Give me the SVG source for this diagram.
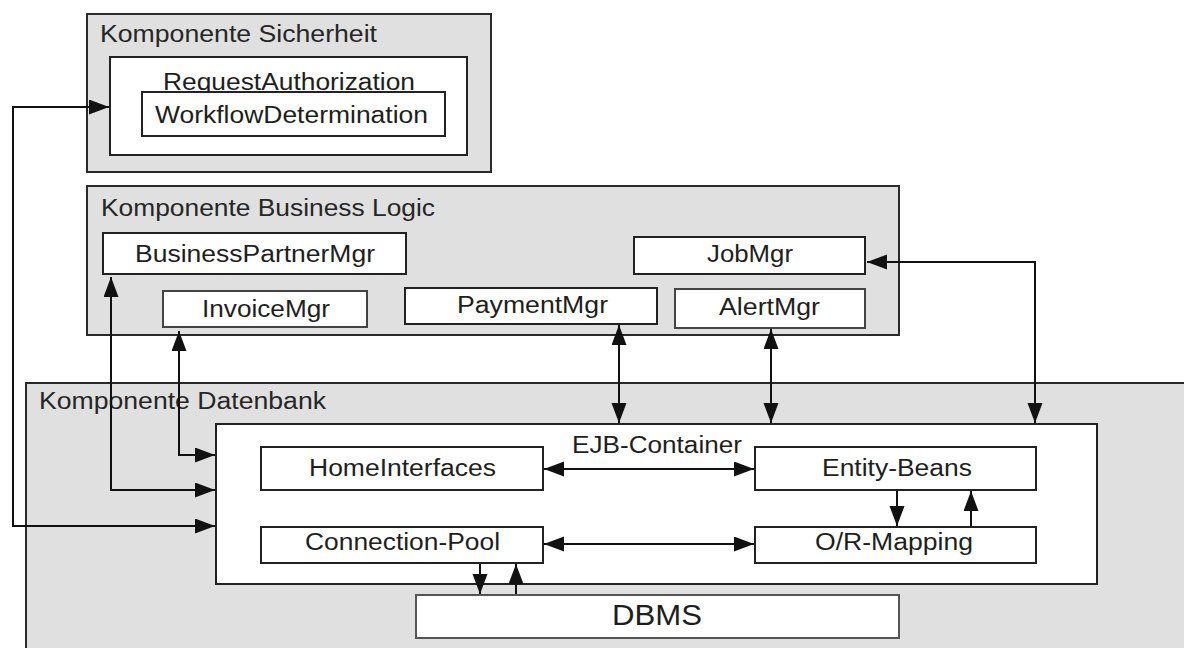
<svg xmlns="http://www.w3.org/2000/svg" width="1184" height="648" viewBox="0 0 1184 648">
  <style>
    .comp { fill: #e0e0e0; stroke: #2a2a2a; stroke-width: 2; }
    .box { fill: #ffffff; stroke: #222222; stroke-width: 2; }
    .title { font-family: "Liberation Sans", Arial, sans-serif; font-size: 23px; fill: #262626; }
    .label { font-family: "Liberation Sans", Arial, sans-serif; font-size: 23px; fill: #1e1e1e; text-anchor: middle; }
    .big { font-size: 29px; }
    .conn { fill: none; stroke: #111111; stroke-width: 2; }
  </style>
  <defs>
    <marker id="arrow" markerUnits="userSpaceOnUse" markerWidth="21" markerHeight="16" refX="20" refY="7.5" orient="auto-start-reverse">
      <path d="M0,0 L20,7.5 L0,15 z" fill="#111111"/>
    </marker>
  </defs>

  <rect x="0" y="0" width="1184" height="648" fill="#ffffff"/>

  <!-- Security component -->
  <g id="komponente-sicherheit">
    <rect class="comp" x="87" y="14" width="404" height="158"/>
    <text class="title" x="100" y="42" textLength="277" lengthAdjust="spacingAndGlyphs">Komponente Sicherheit</text>
  </g>
  <g id="request-authorization">
    <rect class="box" x="110" y="57" width="357" height="98"/>
    <text class="label" x="289" y="90" textLength="252" lengthAdjust="spacingAndGlyphs">RequestAuthorization</text>
  </g>
  <g id="workflow-determination">
    <rect class="box" x="142" y="92" width="303" height="44"/>
    <text class="label" x="291.5" y="123" textLength="273" lengthAdjust="spacingAndGlyphs">WorkflowDetermination</text>
  </g>

  <!-- Business logic component -->
  <g id="komponente-business-logic">
    <rect class="comp" x="87" y="186" width="812" height="149"/>
    <text class="title" x="101" y="216" textLength="334" lengthAdjust="spacingAndGlyphs">Komponente Business Logic</text>
  </g>
  <g id="business-partner-mgr">
    <rect class="box" x="103" y="233" width="303" height="41"/>
    <text class="label" x="255" y="262" textLength="240" lengthAdjust="spacingAndGlyphs">BusinessPartnerMgr</text>
  </g>
  <g id="invoice-mgr">
    <rect class="box" x="163" y="291" width="204" height="36" style="stroke:#444"/>
    <text class="label" x="266" y="317" textLength="128" lengthAdjust="spacingAndGlyphs">InvoiceMgr</text>
  </g>
  <g id="payment-mgr">
    <rect class="box" x="405" y="288" width="252" height="36"/>
    <text class="label" x="532.5" y="313" textLength="151" lengthAdjust="spacingAndGlyphs">PaymentMgr</text>
  </g>
  <g id="job-mgr">
    <rect class="box" x="634" y="237" width="231" height="37"/>
    <text class="label" x="750" y="262" textLength="86" lengthAdjust="spacingAndGlyphs">JobMgr</text>
  </g>
  <g id="alert-mgr">
    <rect class="box" x="675" y="289" width="190" height="39" style="stroke:#444"/>
    <text class="label" x="769.5" y="315" textLength="101" lengthAdjust="spacingAndGlyphs">AlertMgr</text>
  </g>

  <!-- Database component -->
  <g id="komponente-datenbank">
    <rect class="comp" x="26" y="383" width="1200" height="300"/>
    <text class="title" x="39" y="409" textLength="287" lengthAdjust="spacingAndGlyphs">Komponente Datenbank</text>
  </g>
  <g id="ejb-container">
    <rect class="box" x="216" y="424" width="881" height="160"/>
    <text class="label" x="657" y="453" textLength="170" lengthAdjust="spacingAndGlyphs">EJB-Container</text>
  </g>
  <g id="home-interfaces">
    <rect class="box" x="261" y="447" width="282" height="43"/>
    <text class="label" x="402.5" y="476" textLength="187" lengthAdjust="spacingAndGlyphs">HomeInterfaces</text>
  </g>
  <g id="entity-beans">
    <rect class="box" x="755" y="447" width="281" height="43"/>
    <text class="label" x="897" y="476" textLength="150" lengthAdjust="spacingAndGlyphs">Entity-Beans</text>
  </g>
  <g id="connection-pool">
    <rect class="box" x="261" y="527" width="282" height="36"/>
    <text class="label" x="402.5" y="550" textLength="195" lengthAdjust="spacingAndGlyphs">Connection-Pool</text>
  </g>
  <g id="or-mapping">
    <rect class="box" x="755" y="527" width="281" height="36"/>
    <text class="label" x="894" y="550" textLength="158" lengthAdjust="spacingAndGlyphs">O/R-Mapping</text>
  </g>
  <g id="dbms">
    <rect class="box" x="416" y="595" width="483" height="43" style="stroke:#555"/>
    <text class="label big" x="657" y="625" textLength="90" lengthAdjust="spacingAndGlyphs">DBMS</text>
  </g>

  <!-- Connectors -->
  <g id="connectors">
    <path class="conn" d="M215,526 H13 V107 H109" marker-start="url(#arrow)" marker-end="url(#arrow)"/>
    <path class="conn" d="M111,277 V490 H215" marker-start="url(#arrow)" marker-end="url(#arrow)"/>
    <path class="conn" d="M179,331 V455 H215" marker-start="url(#arrow)" marker-end="url(#arrow)"/>
    <path class="conn" d="M619,325 V423" marker-start="url(#arrow)" marker-end="url(#arrow)"/>
    <path class="conn" d="M771,329 V423" marker-start="url(#arrow)" marker-end="url(#arrow)"/>
    <path class="conn" d="M1035,423 V262 H867" marker-end="url(#arrow)" marker-start="url(#arrow)"/>
    <path class="conn" d="M544,469 H754" marker-start="url(#arrow)" marker-end="url(#arrow)"/>
    <path class="conn" d="M544,544 H754" marker-start="url(#arrow)" marker-end="url(#arrow)"/>
    <path class="conn" d="M897,491 V526" marker-end="url(#arrow)"/>
    <path class="conn" d="M971,526 V491" marker-end="url(#arrow)"/>
    <path class="conn" d="M480,564 V594" marker-end="url(#arrow)"/>
    <path class="conn" d="M516,594 V564" marker-end="url(#arrow)"/>
  </g>
</svg>
